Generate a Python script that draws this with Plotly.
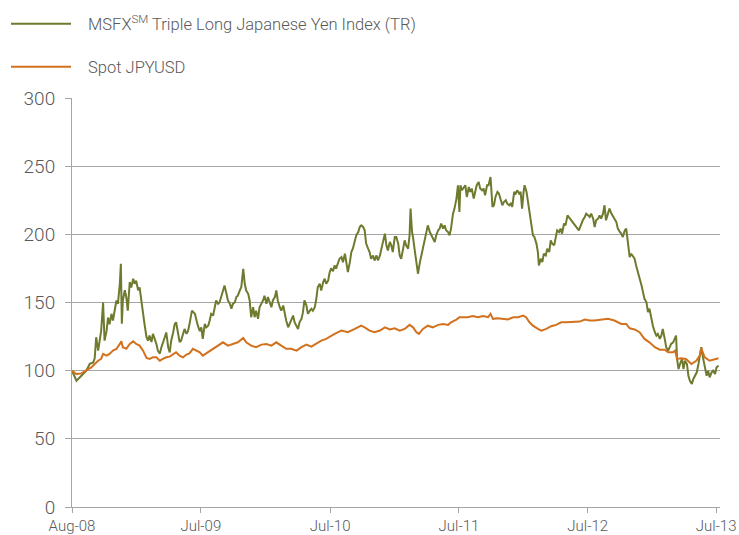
import plotly.graph_objects as go

# ---- data (trading-day index, value) ----
tick_days = [0, 261, 523, 784, 1045, 1305]
tick_labels = ["Aug-08", "Jul-09", "Jul-10", "Jul-11", "Jul-12", "Jul-13"]
y_ticks = [0, 50, 100, 150, 200, 250, 300]

msfx_day = [0, 9, 19, 29, 36, 43, 46, 49, 53, 56, 59, 63, 66, 70, 73, 76, 80, 83, 87, 90,
            93, 97, 99, 101, 103, 107, 110, 113, 117, 120, 124, 127, 130, 134, 137, 140, 144, 147, 151, 154,
            157, 161, 164, 168, 171, 174, 178, 181, 184, 188, 191, 195, 198, 201, 205, 208, 211, 215, 218, 221,
            225, 228, 232, 235, 238, 243, 249, 252, 255, 259, 262, 265, 269, 272, 276, 279, 282, 286, 289, 292,
            296, 299, 303, 306, 309, 313, 316, 320, 323, 326, 330, 333, 336, 340, 343, 347, 350, 353, 357, 360,
            363, 367, 370, 373, 377, 380, 384, 387, 390, 394, 397, 401, 404, 407, 411, 414, 417, 421, 424, 428,
            431, 434, 438, 441, 444, 448, 451, 455, 458, 461, 465, 468, 471, 475, 478, 482, 485, 488, 492, 495,
            498, 502, 505, 509, 512, 515, 519, 522, 525, 529, 532, 535, 539, 542, 546, 549, 553, 556, 559, 563,
            566, 569, 573, 576, 580, 583, 586, 590, 593, 596, 600, 603, 606, 610, 613, 617, 620, 624, 627, 630,
            634, 637, 640, 644, 647, 650, 654, 657, 661, 664, 667, 671, 674, 677, 681, 684, 686, 689, 691, 694,
            698, 701, 705, 708, 711, 715, 718, 721, 725, 728, 731, 735, 738, 742, 745, 748, 752, 755, 758, 762,
            765, 768, 772, 775, 779, 782, 785, 787, 790, 794, 797, 800, 804, 807, 810, 814, 817, 820, 824, 827,
            831, 834, 837, 841, 844, 848, 850, 852, 855, 858, 862, 865, 869, 872, 875, 879, 882, 886, 889, 892,
            896, 899, 902, 906, 909, 912, 915, 917, 921, 924, 927, 931, 934, 937, 941, 944, 946, 950, 953, 956,
            960, 963, 967, 970, 973, 977, 980, 983, 987, 990, 993, 997, 1000, 1004, 1027, 1032, 1035, 1039, 1042, 1046,
            1049, 1052, 1056, 1059, 1062, 1066, 1069, 1072, 1076, 1079, 1082, 1086, 1089, 1093, 1096, 1099, 1103, 1106, 1110, 1113,
            1116, 1120, 1123, 1127, 1130, 1133, 1137, 1140, 1143, 1147, 1150, 1154, 1157, 1160, 1164, 1167, 1170, 1174, 1177, 1181,
            1184, 1187, 1191, 1194, 1197, 1201, 1204, 1208, 1211, 1214, 1218, 1221, 1224, 1226, 1229, 1232, 1236, 1239, 1242, 1246,
            1249, 1252, 1256, 1259, 1263, 1266, 1270, 1273, 1275, 1279, 1282, 1286, 1289, 1292, 1296, 1299, 1303, 1306, 1310]
msfx_val = [100, 92.6, 96.3, 100, 105, 106, 109, 124.5, 114.7, 122, 129, 150, 122, 129, 139, 134, 141.7, 136.8, 144, 151.5,
            149, 164, 178.4, 134.5, 151.5, 159, 154, 144, 165, 161, 167.4, 163.7, 166, 159, 161, 151.5, 141.7, 134, 124.5, 122,
            125.7, 121, 127, 123, 119.6, 114.7, 112.5, 117, 121, 124.5, 128, 117, 113.4, 122, 128, 134, 135.5, 127, 121, 122,
            127, 130.6, 127, 129, 134, 144, 141.7, 136.8, 133, 129, 131.8, 123.3, 134.3, 131.8, 133, 136.8, 141.7, 140.4, 146.5, 151.5,
            149, 150.2, 155, 158.8, 162.5, 156.4, 151.5, 149, 145.4, 149, 150.2, 154, 155, 158.8, 161.3, 174.7, 163.7, 158.8, 156.4, 151.5,
            139.2, 146.5, 139.2, 144, 138, 146.5, 149, 151.5, 155, 149, 154, 149, 146.5, 151.5, 154, 158.8, 151.5, 146.5, 144, 147.8,
            141.7, 136.8, 131.8, 134.3, 138, 140.4, 135.5, 133, 130.6, 135.5, 138, 142.9, 151.5, 147.8, 141.7, 144, 145.4, 144, 146.5, 152.7,
            161.3, 163.7, 158.8, 165, 167.4, 163.7, 166, 172, 175, 173, 177.2, 174.8, 179.6, 182.1, 183.3, 179.6, 185.8, 177.2, 172.3, 179.6,
            187, 189.5, 194.4, 199.3, 201.7, 205.4, 206.6, 205.4, 203, 193.2, 189.5, 187, 182.1, 184.5, 180.8, 184.5, 180.8, 184.5, 189.5, 194.4,
            200.5, 191.9, 188.2, 194.4, 191.9, 187, 198, 198, 193.2, 184.5, 182.1, 189.5, 195.6, 191.9, 189.5, 199.3, 218.9, 201.7, 198, 189.5,
            177.2, 171.1, 179.6, 184.5, 189.5, 194.4, 201.7, 206.6, 201.7, 199.3, 198, 194.4, 199.3, 203, 204.2, 207.9, 204.2, 206.6, 203, 201.7,
            199.3, 204.2, 215.2, 218.9, 226.2, 236, 216.4, 236, 232.3, 234.7, 236, 227.4, 234.7, 231.1, 233.6, 226.2, 232.3, 236, 238.4, 233.6,
            232.3, 233.6, 228.7, 236, 236, 242, 231.1, 220.1, 221.3, 227.4, 231.1, 229.9, 225, 221.3, 223.7, 225, 222.5, 221.3, 222.5, 220.1,
            231.1, 229.9, 232.3, 229.9, 231.1, 218.9, 231.1, 236, 231.1, 223.7, 213.9, 206.6, 199.3, 198, 193.2, 187, 177.2, 182.1, 179.6, 185.8,
            184.5, 189.5, 187, 195.6, 193.2, 191.9, 198, 202.9, 201.7, 204.2, 200.5, 207.9, 206.6, 213.9, 202.9, 207.9, 210.3, 212.7, 215.2, 213.9,
            212.7, 215.2, 211.5, 205.4, 210.3, 211.5, 213.9, 211.5, 215.2, 221.3, 210.3, 215.2, 218.9, 215.2, 212.7, 211.5, 209, 204.2, 201.7, 200.5,
            198, 202.9, 204.2, 191.9, 183.3, 185.8, 183.3, 182.1, 177.2, 172.3, 168.6, 162.5, 157.6, 152.7, 150.2, 142.9, 145.4, 138, 133, 128.2,
            125.7, 127, 123.3, 125.7, 130.6, 123.3, 117.2, 114.7, 117.2, 119.6, 120.8, 123.3, 125.7, 108.6, 101.2, 104.9, 108.6, 101.2, 107.3, 104.9,
            96.3, 92.6, 90.2, 93.9, 96.3, 98.8, 106.1, 113.4, 117.2, 108.6, 103.7, 96.3, 100, 95.1, 98.8, 100, 97.5, 102.4, 103.7]

spot_day = [0, 9, 19, 29, 39, 46, 53, 59, 63, 70, 76, 83, 90, 97, 100, 103, 110, 117, 124, 130,
            137, 144, 151, 157, 164, 171, 178, 184, 191, 198, 205, 211, 218, 225, 232, 238, 245, 252, 259, 265,
            276, 286, 296, 306, 316, 326, 336, 347, 353, 363, 373, 384, 394, 404, 414, 424, 434, 444, 455, 465,
            475, 485, 495, 505, 515, 525, 532, 546, 559, 573, 586, 593, 603, 613, 624, 634, 644, 654, 664, 674,
            684, 691, 698, 703, 711, 721, 731, 742, 752, 762, 768, 779, 785, 792, 802, 812, 823, 833, 843, 848,
            853, 863, 873, 883, 894, 904, 914, 920, 927, 934, 944, 951, 961, 971, 981, 991, 1001, 1015, 1029, 1039,
            1049, 1059, 1072, 1086, 1099, 1113, 1123, 1130, 1140, 1150, 1160, 1170, 1181, 1191, 1201, 1208, 1218, 1222, 1226, 1234,
            1244, 1255, 1265, 1272, 1275, 1282, 1292, 1303, 1310]
spot_val = [100, 97.5, 98, 100, 102.4, 104.9, 107.3, 108.6, 112.3, 111, 112.3, 114.7, 116, 119.6, 121.5, 117.2, 116, 119.6, 121.5, 119.6,
            118.4, 114.7, 109.3, 108.6, 109.8, 109.8, 107.3, 108.6, 109.8, 110.3, 112.3, 113.5, 111, 109.8, 111.8, 112.7, 116, 114.7, 113.5, 111,
            113.5, 116, 118.4, 120.8, 118.4, 119.6, 120.8, 124, 120.8, 118.4, 117.2, 119.1, 119.6, 118.4, 120.8, 118.4, 116, 116, 114.7, 117.2,
            119.1, 117.6, 119.6, 122, 123.3, 125.7, 127, 129.4, 128.2, 130.6, 133, 131.8, 129.4, 128.2, 129.4, 131.8, 130.2, 131.1, 129.4, 130.6,
            133.6, 131.8, 128.2, 127, 130.6, 133, 131.8, 133.6, 134.3, 133.6, 135.5, 137.5, 139.2, 139.2, 139.2, 140, 139.2, 140, 139.2, 141.7,
            138, 138.5, 138, 137.5, 139.2, 139.2, 140.4, 139.2, 135.5, 133, 130.6, 129.4, 130.6, 132.6, 133.6, 135.5, 135.5, 135.5, 136, 137.5,
            136.8, 136.8, 137.5, 138, 136.8, 134.3, 134.3, 131.1, 130.2, 128.2, 123.3, 120.8, 117.2, 115.4, 115.4, 113.5, 113.5, 114.7, 108.6, 109.1,
            108.6, 104.9, 107.3, 111, 116.4, 109.8, 107.3, 108.1, 109.1]

GREEN = "#6E7A2E"
ORANGE = "#D2711E"
GRID = "#A6A6A6"
TEXT = "#595959"
FONT = "Roboto"
PAD = "\u00a0\u00a0\u00a0"

fig = go.Figure()
fig.add_trace(go.Scatter(
    x=msfx_day, y=msfx_val, mode="lines",
    name=PAD + "MSFX<sup>SM</sup> Triple Long Japanese Yen Index (TR)",
    line=dict(color=GREEN, width=2), legend="legend"))
fig.add_trace(go.Scatter(
    x=spot_day, y=spot_val, mode="lines", name=PAD + "Spot JPYUSD",
    line=dict(color=ORANGE, width=2), legend="legend2"))

leg_common = dict(xref="container", yref="container", xanchor="left", yanchor="middle",
                  bgcolor="rgba(0,0,0,0)", borderwidth=0, itemwidth=60,
                  font=dict(family=FONT, size=16.5, color=TEXT, weight=300))

fig.update_layout(
    width=739, height=535,
    margin=dict(l=72, r=19, t=98, b=28, autoexpand=False),
    paper_bgcolor="white", plot_bgcolor="white",
    font=dict(family=FONT, color=TEXT),
    legend=dict(x=6 / 739, y=1 - 24 / 535, **leg_common),
    legend2=dict(x=6 / 739, y=1 - 67 / 535, **leg_common),
    showlegend=True,
    xaxis=dict(range=[0, 1313], tickmode="array", tickvals=tick_days, ticktext=tick_labels,
               showgrid=False, zeroline=False, showline=True, linecolor=GRID, linewidth=1,
               ticks="outside", ticklen=5, tickcolor=GRID,
               tickfont=dict(family=FONT, size=15, color=TEXT, weight=300)),
    yaxis=dict(range=[0, 300], tickmode="array", tickvals=y_ticks,
               showgrid=True, gridcolor=GRID, gridwidth=1, zeroline=False,
               showline=True, linecolor=GRID, linewidth=1,
               ticks="outside", ticklen=6, tickcolor=GRID, ticklabelstandoff=6,
               tickfont=dict(family=FONT, size=19, color=TEXT, weight=300)),
)

fig.write_html("out.html", config={"displayModeBar": False},
               post_script="document.body.style.margin='0';")
